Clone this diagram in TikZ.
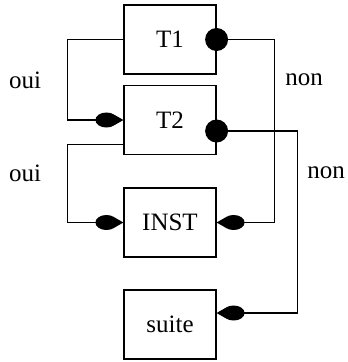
\documentclass[tikz,border=0pt]{standalone}
\usepackage{fontspec}
\setmainfont{Liberation Serif}
\usetikzlibrary{arrows.meta}
\tikzset{
  box/.style={draw, line width=1.2pt, minimum width=92pt, minimum height=69pt, inner sep=0pt, font=\fontsize{25}{28}\selectfont},
  lbl/.style={font=\fontsize{25}{28}\selectfont, inner sep=0pt},
  dotmark/.style={circle, fill=black, inner sep=0pt, minimum size=23pt},
  conn/.style={line width=1.2pt, -{Ellipse[length=22pt,width=15pt,sep=-3pt] Triangle[length=9pt,width=10pt]}},
  wire/.style={line width=1.2pt}
}
\begin{document}
\begin{tikzpicture}[x=1pt,y=-1pt]
\useasboundingbox (0,0) rectangle (348,362);
\node[box] (t1) at (170,39.5) {T1};
\node[box] (t2) at (170,120) {T2};
\node[box] (inst) at (170,222.5) {INST};
\node[box] (suite) at (170,324.5) {suite};
\node[lbl] (oui1) at (25,80) {oui};
\node[lbl] (oui2) at (25,173) {oui};
\node[lbl] (non1) at (304,80) {non};
\node[lbl] (non2) at (326,173) {non};
\coordinate (t2out) at ([yshift=11pt]t2.south west);
\coordinate (suitein) at ([yshift=11.5pt]suite.east);
\node[dotmark] (d1) at (t1.east) {};
\node[dotmark] (d2) at ([yshift=-11pt]t2.east) {};
\draw[conn] (t1.west) -- ++(-56,0) |- (t2.west);
\draw[conn] (t2out) -- ++(-56,0) |- (inst.west);
\draw[conn] (d1.center) -- ++(58,0) |- (inst.east);
\draw[conn] (d2.center) -- ++(81,0) |- (suitein);
\end{tikzpicture}
\end{document}
